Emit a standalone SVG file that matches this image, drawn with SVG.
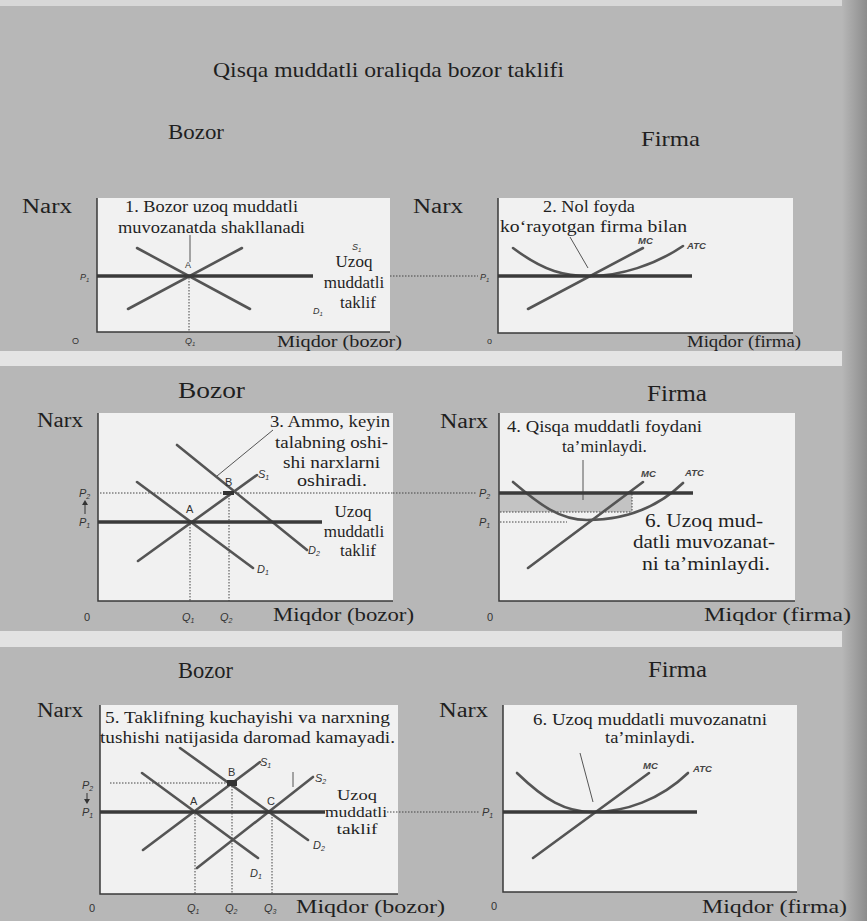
<svg xmlns="http://www.w3.org/2000/svg" width="867" height="921" viewBox="0 0 867 921">
<defs>
<linearGradient id="edge" x1="0" y1="0" x2="1" y2="0">
<stop offset="0" stop-color="#b7b7b7"/><stop offset="1" stop-color="#8c8c8c"/>
</linearGradient>
</defs>
<style>
.s{font-family:"Liberation Serif","Times New Roman",serif;fill:#1f1f1f}
.h{font-size:22px}
.n{font-size:20px}
.b{font-size:17px}
.u{font-size:15px}
.ax{font-size:18px}
.l{font-family:"Liberation Sans",Arial,sans-serif;font-style:italic;font-size:11px;fill:#333}
.l9{font-family:"Liberation Sans",Arial,sans-serif;font-style:italic;font-size:9px;fill:#333}
.pt{font-family:"Liberation Sans",Arial,sans-serif;font-size:11px;fill:#333}
.pt9{font-family:"Liberation Sans",Arial,sans-serif;font-size:9px;fill:#333}
.mc{font-family:"Liberation Sans",Arial,sans-serif;font-style:italic;font-weight:bold;font-size:9.5px;fill:#444}
.box{fill:#f1f1f1}
.axis{stroke:#3a3a3a;stroke-width:1.5;fill:none}
.cv{stroke:#555;stroke-width:2.6;fill:none;stroke-linecap:round}
.thick{stroke:#3a3a3a;stroke-width:3.5;fill:none}
.dot{stroke:#444;stroke-width:1;stroke-dasharray:1.5 1.5;fill:none}
.ptr{stroke:#555;stroke-width:1;fill:none}
</style>
<rect width="867" height="921" fill="#b7b7b7"/>
<rect x="0" y="0" width="867" height="6" fill="#d8d8d8"/>
<rect x="0" y="351" width="867" height="15" fill="#e4e4e4"/>
<rect x="0" y="631" width="867" height="16" fill="#e2e2e2"/>
<rect x="842" y="0" width="25" height="921" fill="url(#edge)"/>

<text class="s" x="213" y="77" font-size="22" textLength="351" lengthAdjust="spacingAndGlyphs">Qisqa muddatli oraliqda bozor taklifi</text>

<!-- Top market -->
<g id="top-market">
<text class="s h" x="168" y="139" textLength="56" lengthAdjust="spacingAndGlyphs">Bozor</text>
<text class="s n" x="22" y="213" textLength="50" lengthAdjust="spacingAndGlyphs">Narx</text>
<rect class="box" x="97" y="198" width="293" height="134"/>
<path class="axis" d="M97,198 V332 H390"/>
<text class="s b" x="125" y="212" textLength="173" lengthAdjust="spacingAndGlyphs">1. Bozor uzoq muddatli</text>
<text class="s b" x="118" y="233" textLength="187" lengthAdjust="spacingAndGlyphs">muvozanatda shakllanadi</text>
<path class="ptr" d="M190,235 V262"/>
<path class="cv" d="M137,248 L250,309"/>
<path class="cv" d="M128,309 L242,248"/>
<path class="thick" d="M97,276 H313"/>
<path class="dot" d="M189,278 V332"/>
<text class="pt9" x="185" y="268">A</text>
<text class="l9" x="80" y="280">P<tspan font-size="6" dy="2">1</tspan></text>
<text class="l9" x="352" y="250">S<tspan font-size="6" dy="2">1</tspan></text>
<text class="l9" x="313" y="314">D<tspan font-size="6" dy="2">1</tspan></text>
<text class="s b" x="354" y="267" text-anchor="middle">Uzoq</text>
<text class="s b" x="354" y="288" text-anchor="middle">muddatli</text>
<text class="s b" x="358" y="308" text-anchor="middle">taklif</text>
<text class="pt9" x="72" y="344">O</text>
<text class="l9" x="185" y="344">Q<tspan font-size="6" dy="2">1</tspan></text>
<text class="s" x="277" y="347" font-size="16" textLength="125" lengthAdjust="spacingAndGlyphs">Miqdor (bozor)</text>
</g>

<!-- Top firm -->
<g id="top-firm">
<text class="s h" x="641" y="146" textLength="59" lengthAdjust="spacingAndGlyphs">Firma</text>
<text class="s n" x="413" y="213" textLength="50" lengthAdjust="spacingAndGlyphs">Narx</text>
<rect class="box" x="498" y="198" width="295" height="135"/>
<path class="axis" d="M498,198 V333 H793"/>
<text class="s b" x="543" y="212" textLength="92" lengthAdjust="spacingAndGlyphs">2. Nol foyda</text>
<text class="s b" x="500" y="232" textLength="187" lengthAdjust="spacingAndGlyphs">ko‘rayotgan firma bilan</text>
<path class="ptr" d="M570,237 L588,268"/>
<path class="cv" d="M528,309 L643,248"/>
<path class="cv" d="M513,248 C545,272 565,276 590,276 C620,276 655,265 683,246"/>
<path class="thick" d="M498,276 H692"/>
<text class="mc" x="638" y="244" font-size="8.5">MC</text>
<text class="mc" x="687" y="249" font-size="8.5">ATC</text>
<text class="l9" x="480" y="280">P<tspan font-size="6" dy="2">1</tspan></text>
<text class="pt9" x="487" y="344">o</text>
<text class="s" x="687" y="347" font-size="16" textLength="114" lengthAdjust="spacingAndGlyphs">Miqdor (firma)</text>
</g>

<!-- Middle market -->
<g id="mid-market">
<text class="s" x="178" y="398" font-size="24" textLength="67" lengthAdjust="spacingAndGlyphs">Bozor</text>
<text class="s n" x="37" y="427" textLength="46" lengthAdjust="spacingAndGlyphs">Narx</text>
<rect class="box" x="98" y="413" width="295" height="188"/>
<path class="axis" d="M98,413 V601 H393"/>
<text class="s b" x="270" y="427" textLength="120" lengthAdjust="spacingAndGlyphs">3. Ammo, keyin</text>
<text class="s b" x="275" y="448" textLength="113" lengthAdjust="spacingAndGlyphs">talabning oshi-</text>
<text class="s b" x="283" y="468" textLength="97" lengthAdjust="spacingAndGlyphs">shi narxlarni</text>
<text class="s b" x="297" y="486" textLength="70" lengthAdjust="spacingAndGlyphs">oshiradi.</text>
<path class="ptr" d="M273,430 L217,476"/>
<path class="cv" d="M177,445 L307,550"/>
<path class="cv" d="M138,561 L257,475"/>
<path class="cv" d="M137,482 L253,568"/>
<path class="thick" d="M98,522 H322"/>
<path class="dot" d="M100,493 H393"/>
<rect x="223" y="491" width="11" height="4" fill="#333"/>
<path class="dot" d="M190,524 V601"/>
<path class="dot" d="M229,495 V601"/>
<text class="pt" x="186" y="513">A</text>
<text class="pt" x="225" y="486">B</text>
<text class="l" x="258" y="478">S<tspan font-size="7" dy="2">1</tspan></text>
<text class="l" x="308" y="554">D<tspan font-size="7" dy="2">2</tspan></text>
<text class="l" x="257" y="573">D<tspan font-size="7" dy="2">1</tspan></text>
<text class="l" x="79" y="497">P<tspan font-size="7" dy="2">2</tspan></text>
<path d="M85,514 V503" stroke="#333" stroke-width="1"/>
<path d="M82,505 L85,500 L88,505 Z" fill="#333"/>
<text class="l" x="79" y="526">P<tspan font-size="7" dy="2">1</tspan></text>
<text class="s b" x="353" y="517" text-anchor="middle">Uzoq</text>
<text class="s b" x="354" y="537" text-anchor="middle">muddatli</text>
<text class="s b" x="358" y="556" text-anchor="middle">taklif</text>
<text class="pt" x="84" y="621">0</text>
<text class="l" x="182" y="621">Q<tspan font-size="7" dy="2">1</tspan></text>
<text class="l" x="220" y="621">Q<tspan font-size="7" dy="2">2</tspan></text>
<text class="s ax" x="273" y="621" textLength="141" lengthAdjust="spacingAndGlyphs">Miqdor (bozor)</text>
</g>

<!-- Middle firm -->
<g id="mid-firm">
<text class="s" x="647" y="401" font-size="24" textLength="60" lengthAdjust="spacingAndGlyphs">Firma</text>
<text class="s n" x="440" y="428" textLength="48" lengthAdjust="spacingAndGlyphs">Narx</text>
<rect class="box" x="499" y="413" width="296" height="188"/>
<path class="axis" d="M499,413 V601 H795"/>
<rect x="500" y="494" width="132" height="18" fill="#c3c3c3"/>
<text class="s b" x="507" y="432" textLength="195" lengthAdjust="spacingAndGlyphs">4. Qisqa muddatli foydani</text>
<text class="s b" x="562" y="452" textLength="85" lengthAdjust="spacingAndGlyphs">ta’minlaydi.</text>
<path class="ptr" d="M583,460 V500"/>
<path class="dot" d="M500,512 H632 M632,494 V512 M500,522 H567"/>
<path class="cv" d="M513,482 C540,505 560,520 587,520 C620,520 655,510 683,483"/>
<path class="cv" d="M528,568 L643,482"/>
<path class="thick" d="M499,493 H693"/>
<text class="mc" x="641" y="477">MC</text>
<text class="mc" x="685" y="476">ATC</text>
<text class="l" x="479" y="497">P<tspan font-size="7" dy="2">2</tspan></text>
<text class="l" x="479" y="526">P<tspan font-size="7" dy="2">1</tspan></text>
<text class="s" x="645" y="527" font-size="19" textLength="118" lengthAdjust="spacingAndGlyphs">6. Uzoq mud-</text>
<text class="s" x="633" y="548" font-size="19" textLength="142" lengthAdjust="spacingAndGlyphs">datli muvozanat-</text>
<text class="s" x="642" y="570" font-size="19" textLength="128" lengthAdjust="spacingAndGlyphs">ni ta’minlaydi.</text>
<text class="pt" x="487" y="621">0</text>
<text class="s ax" x="704" y="621" textLength="147" lengthAdjust="spacingAndGlyphs">Miqdor (firma)</text>
</g>

<!-- Bottom market -->
<g id="bottom-market">
<text class="s" x="178" y="678" font-size="24" textLength="55" lengthAdjust="spacingAndGlyphs">Bozor</text>
<text class="s n" x="37" y="717" textLength="46" lengthAdjust="spacingAndGlyphs">Narx</text>
<rect class="box" x="100" y="705" width="298" height="189"/>
<path class="axis" d="M100,705 V894 H398"/>
<text class="s b" x="105" y="723" textLength="285" lengthAdjust="spacingAndGlyphs">5. Taklifning kuchayishi va narxning</text>
<text class="s b" x="100" y="743" textLength="295" lengthAdjust="spacingAndGlyphs">tushishi natijasida daromad kamayadi.</text>
<path class="ptr" d="M293,772 V787"/>
<path class="cv" d="M180,748 L308,840"/>
<path class="cv" d="M143,850 L260,762"/>
<path class="cv" d="M142,773 L258,858"/>
<path class="cv" d="M197,868 L313,777"/>
<path class="thick" d="M100,812 H325"/>
<path class="dot" d="M110,783 H232"/>
<rect x="227" y="780" width="10" height="6" fill="#333"/>
<path class="dot" d="M195,814 V894 M232,786 V894 M272,814 V894"/>
<text class="pt" x="190" y="805">A</text>
<text class="pt" x="228" y="776">B</text>
<text class="pt" x="267" y="805">C</text>
<text class="l" x="260" y="766">S<tspan font-size="7" dy="2">1</tspan></text>
<text class="l" x="315" y="782">S<tspan font-size="7" dy="2">2</tspan></text>
<text class="l" x="313" y="849">D<tspan font-size="7" dy="2">2</tspan></text>
<text class="l" x="250" y="877">D<tspan font-size="7" dy="2">1</tspan></text>
<text class="l" x="82" y="789">P<tspan font-size="7" dy="2">2</tspan></text>
<path d="M87,793 V801" stroke="#333" stroke-width="1"/>
<path d="M84,799 L87,804 L90,799 Z" fill="#333"/>
<text class="l" x="82" y="816">P<tspan font-size="7" dy="2">1</tspan></text>
<text class="s u" x="357" y="800" text-anchor="middle" textLength="40" lengthAdjust="spacingAndGlyphs">Uzoq</text>
<text class="s u" x="356" y="817" text-anchor="middle" textLength="62" lengthAdjust="spacingAndGlyphs">muddatli</text>
<text class="s u" x="357" y="834" text-anchor="middle" textLength="41" lengthAdjust="spacingAndGlyphs">taklif</text>
<text class="pt" x="89" y="912">0</text>
<text class="l" x="187" y="912">Q<tspan font-size="7" dy="2">1</tspan></text>
<text class="l" x="225" y="912">Q<tspan font-size="7" dy="2">2</tspan></text>
<text class="l" x="264" y="912">Q<tspan font-size="7" dy="2">3</tspan></text>
<text class="s ax" x="296" y="913" textLength="149" lengthAdjust="spacingAndGlyphs">Miqdor (bozor)</text>
</g>

<!-- Bottom firm -->
<g id="bottom-firm">
<text class="s" x="648" y="677" font-size="24" textLength="59" lengthAdjust="spacingAndGlyphs">Firma</text>
<text class="s n" x="439" y="717" textLength="49" lengthAdjust="spacingAndGlyphs">Narx</text>
<rect class="box" x="503" y="705" width="294" height="187"/>
<path class="axis" d="M503,705 V892 H797"/>
<text class="s b" x="533" y="725" textLength="234" lengthAdjust="spacingAndGlyphs">6. Uzoq muddatli muvozanatni</text>
<text class="s b" x="605" y="743" textLength="90" lengthAdjust="spacingAndGlyphs">ta’minlaydi.</text>
<path class="ptr" d="M580,753 L593,802"/>
<path class="cv" d="M533,858 L649,773"/>
<path class="cv" d="M517,773 C545,800 565,812 593,812 C625,812 660,800 688,773"/>
<path class="thick" d="M503,812 H697"/>
<text class="mc" x="643" y="769">MC</text>
<text class="mc" x="693" y="772">ATC</text>
<text class="l" x="482" y="816">P<tspan font-size="7" dy="2">1</tspan></text>
<text class="pt" x="491" y="910">0</text>
<text class="s ax" x="702" y="913" textLength="145" lengthAdjust="spacingAndGlyphs">Miqdor (firma)</text>
</g>

<g id="connectors">
<path class="dot" d="M390,276 H478"/>
<path class="dot" d="M393,493 H477"/>
<path class="dot" d="M387,812 H480"/>
</g>
</svg>
